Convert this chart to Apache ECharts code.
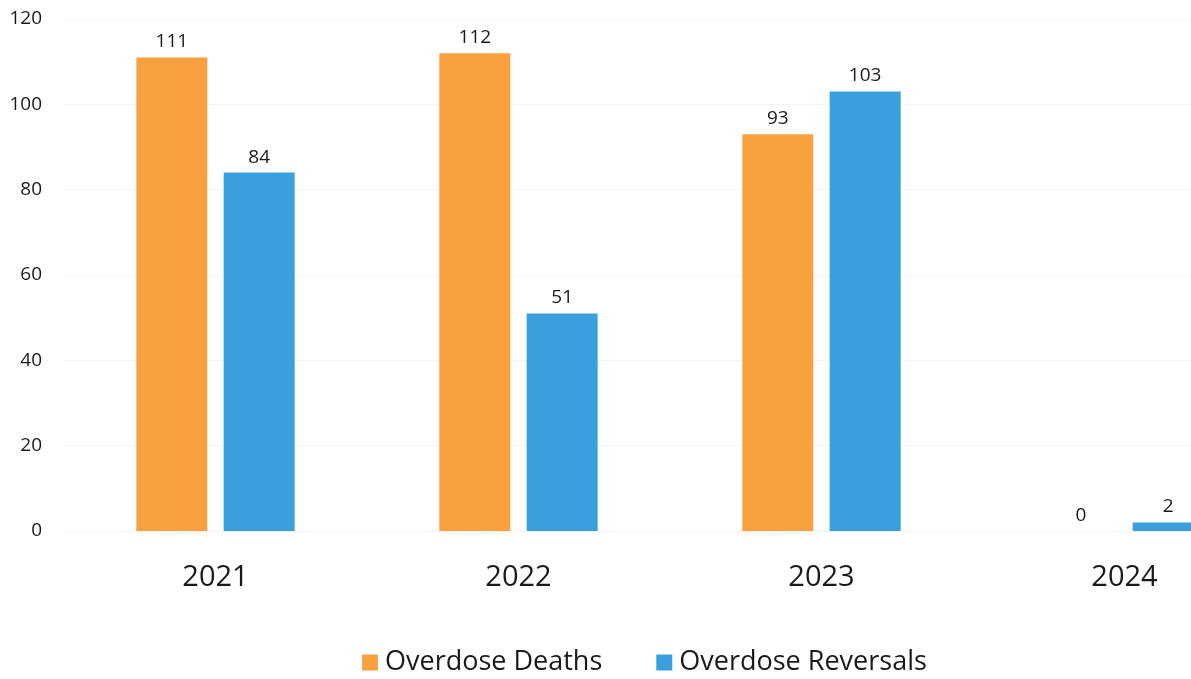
<!DOCTYPE html>
<html>
<head>
<meta charset="utf-8">
<script src="https://cdn.jsdelivr.net/npm/echarts@6/dist/echarts.min.js"></script>
<style>
  html, body { margin: 0; padding: 0; background: #fff; overflow: hidden; }
  /* el gráfico original está recortado a la derecha: el lienzo es más ancho que la ventana */
  #chart { width: 1277px; height: 679px; }
</style>
</head>
<body>
<div id="chart"></div>
<script>
// --- Datos ---
const years = ['2021', '2022', '2023', '2024'];
const deaths = [111, 112, 93, 0];
const reversals = [84, 51, 103, 2];
const yTicks = [0, 20, 40, 60, 80, 100, 120];

const orange = '#F9A13F';
const blue = '#3A9FDD';
const textColor = '#1a1a1a';
const fontFamily = '"Open Sans", "Noto Sans", sans-serif';

const chart = echarts.init(document.getElementById('chart'));

chart.setOption({
    animation: false,
    backgroundColor: '#fff',
    textStyle: { fontFamily: fontFamily },
    grid: { left: 64, right: 1, top: 19, bottom: 148, containLabel: false },
    legend: {
        top: 644,
        left: 357,
        itemWidth: 16,
        itemHeight: 16,
        itemGap: 54,
        icon: 'rect',
        textStyle: { fontSize: 27, color: textColor, fontFamily: fontFamily, padding: [0, 0, 0, 2] },
        data: ['Overdose Deaths', 'Overdose Reversals']
    },
    xAxis: {
        type: 'category',
        data: years,
        axisLine: { show: false },
        axisTick: { show: false },
        axisLabel: { fontSize: 29, color: textColor, margin: 32 }
    },
    yAxis: {
        type: 'value',
        min: yTicks[0],
        max: yTicks[yTicks.length - 1],
        interval: 20,
        axisLine: { show: false },
        axisTick: { show: false },
        axisLabel: { fontSize: 19, color: textColor, margin: 22 },
        splitLine: { lineStyle: { color: '#f3f3f3', width: 1 } }
    },
    series: [
        {
            name: 'Overdose Deaths',
            type: 'bar',
            data: deaths,
            barWidth: 71,
            barGap: '23%',
            itemStyle: { color: orange },
            label: { show: true, position: 'top', distance: 6, fontSize: 19, color: textColor }
        },
        {
            name: 'Overdose Reversals',
            type: 'bar',
            data: reversals,
            barWidth: 71,
            barGap: '23%',
            itemStyle: { color: blue },
            label: { show: true, position: 'top', distance: 6, fontSize: 19, color: textColor }
        }
    ]
});
</script>
</body>
</html>
